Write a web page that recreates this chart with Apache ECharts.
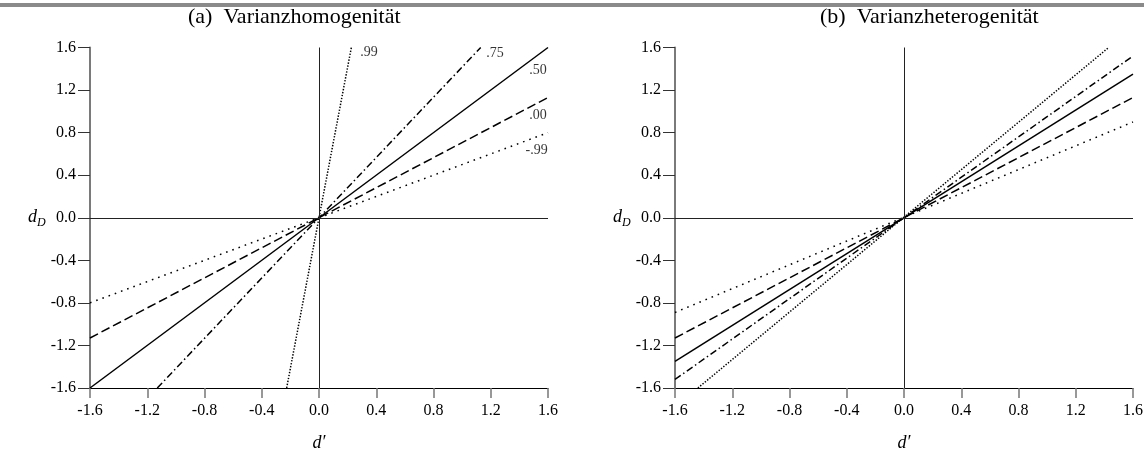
<!DOCTYPE html>
<html>
<head>
<meta charset="utf-8">
<script src="https://cdn.jsdelivr.net/npm/echarts@6/dist/echarts.min.js"></script>
<style>html,body{margin:0;padding:0;background:#fff}#c{width:1144px;height:450px}</style>
</head>
<body>
<div id="c"></div>
<script>
// ---- data ----
const tickValues = [-1.6, -1.2, -0.8, -0.4, 0.0, 0.4, 0.8, 1.2, 1.6];
const rhoLabels = ['.99', '.75', '.50', '.00', '-.99'];
// panel (a) Varianzhomogenität: line endpoints (start / end)
const homStartX = [-0.226, -1.13, -1.6, -1.6, -1.6];
const homStartY = [-1.6, -1.6, -1.6, -1.13, -0.80];
const homEndX = [0.226, 1.13, 1.6, 1.6, 1.6];
const homEndY = [1.6, 1.6, 1.6, 1.13, 0.80];
// panel (b) Varianzheterogenität
const hetStartX = [-1.44, -1.6, -1.6, -1.6, -1.6];
const hetStartY = [-1.6, -1.52, -1.35, -1.13, -0.89];
const hetEndX = [1.43, 1.6, 1.6, 1.6, 1.6];
const hetEndY = [1.6, 1.52, 1.35, 1.13, 0.90];
// label anchors in panel (a), data coordinates
const labelX = [0.35, 1.23, 1.53, 1.53, 1.52];
const labelY = [1.55, 1.545, 1.385, 0.96, 0.63];
const titles = ['(a)  Varianzhomogenität', '(b)  Varianzheterogenität'];

// ---- styles ----
const FONT = '"Liberation Serif", "Times New Roman", serif';
const lineTypes = [[1.4, 1.6], [7, 3, 1.5, 3], 'solid', [9, 4], [1.6, 5]];

const chart = echarts.init(document.getElementById('c'), null, {renderer: 'canvas'});

function xAxisDef(gi) {
  return {
    gridIndex: gi, type: 'value', min: -1.6, max: 1.6, interval: 0.4,
    name: '{i|d′}', nameLocation: 'middle', nameGap: 46,
    nameTextStyle: {rich: {i: {fontFamily: FONT, fontStyle: 'italic', fontSize: 18, color: '#000'}}},
    axisLine: {show: true, onZero: false, lineStyle: {color: '#000', width: 1}},
    axisTick: {show: true, length: 10, lineStyle: {color: '#777', width: 1.5}},
    axisLabel: {fontFamily: FONT, fontSize: 16, color: '#000', margin: 15,
      formatter: v => v.toFixed(1)},
    splitLine: {show: false}
  };
}
function yAxisDef(gi) {
  return {
    gridIndex: gi, type: 'value', min: -1.6, max: 1.6, interval: 0.4,
    name: '{i|d}{s|D}', nameLocation: 'middle', nameGap: 44, nameRotate: 0,
    nameTextStyle: {align: 'right', rich: {
      i: {fontFamily: FONT, fontStyle: 'italic', fontSize: 18, color: '#000'},
      s: {fontFamily: FONT, fontStyle: 'italic', fontSize: 12, color: '#000', padding: [10, 0, 0, 0]}
    }},
    axisLine: {show: true, onZero: false, lineStyle: {color: '#7a7a7a', width: 2}},
    axisTick: {show: true, length: 12, lineStyle: {color: '#333', width: 1}},
    axisLabel: {fontFamily: FONT, fontSize: 16, color: '#000', margin: 14,
      formatter: v => v.toFixed(1)},
    splitLine: {show: false}
  };
}

const series = [];
function addPanel(gi, sx, sy, ex, ey) {
  for (let i = 0; i < sx.length; i++) {
    series.push({
      type: 'line', xAxisIndex: gi, yAxisIndex: gi, symbol: 'none', silent: true,
      data: [[sx[i], sy[i]], [ex[i], ey[i]]],
      lineStyle: {color: '#000', width: 1.5, type: lineTypes[i]},
      animation: false, clip: true
    });
  }
  series.push({
    type: 'line', xAxisIndex: gi, yAxisIndex: gi, data: [], symbol: 'none',
    markLine: {
      silent: true, symbol: ['none', 'none'], label: {show: false},
      lineStyle: {color: '#222', width: 1, type: 'solid'},
      data: [{xAxis: 0}, {yAxis: 0}], animation: false
    }
  });
}
addPanel(0, homStartX, homStartY, homEndX, homEndY);
addPanel(1, hetStartX, hetStartY, hetEndX, hetEndY);
series.push({
  type: 'scatter', xAxisIndex: 0, yAxisIndex: 0, symbolSize: 0, silent: true,
  data: labelX.map((x, i) => ({value: [x, labelY[i]], name: rhoLabels[i]})),
  label: {show: true, position: 'inside', formatter: p => p.name,
    fontFamily: FONT, fontSize: 14, color: '#000'},
  animation: false
});

chart.setOption({
  animation: false,
  backgroundColor: '#fff',
  grid: [
    {left: 90, right: 596, top: 47.5, bottom: 62, containLabel: false, outerBoundsMode: 'none'},
    {left: 675, right: 11, top: 47.5, bottom: 62, containLabel: false, outerBoundsMode: 'none'}
  ],
  xAxis: [xAxisDef(0), xAxisDef(1)],
  yAxis: [yAxisDef(0), yAxisDef(1)],
  series: series,
  graphic: [
    {type: 'rect', left: 0, top: 3, shape: {width: 1144, height: 4}, style: {fill: '#8a8a8a'}},
    {type: 'text', left: 188, top: 6, style: {text: titles[0], font: '22px ' + FONT, fill: '#000'}},
    {type: 'text', left: 820, top: 6, style: {text: titles[1], font: '22px ' + FONT, fill: '#000'}}
  ]
});
</script>
</body>
</html>
